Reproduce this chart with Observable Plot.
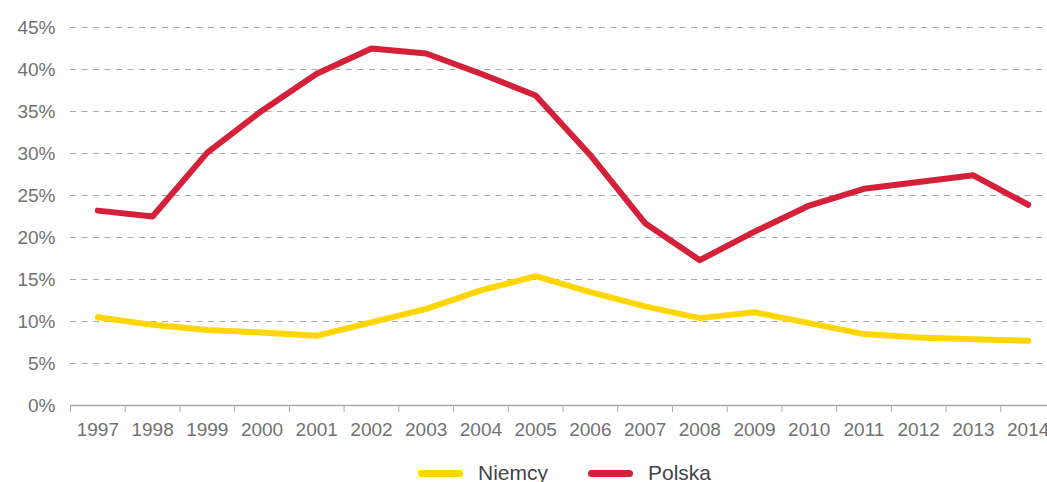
<!DOCTYPE html>
<html>
<head>
<meta charset="utf-8">
<script src="https://cdn.jsdelivr.net/npm/d3@7"></script>
<script src="https://cdn.jsdelivr.net/npm/@observablehq/plot@0.6"></script>
<style>
  html, body { margin: 0; padding: 0; background: #fff; }
  body { width: 1047px; height: 482px; overflow: hidden; font-family: "Liberation Sans", Arial, sans-serif; }
  #legend { display: flex; justify-content: center; align-items: center; margin-left: 76px; width: 977px; height: 36px; font-size: 21px; color: #444; }
  .item { display: flex; align-items: center; margin: 0 20px; }
  .sw { width: 45px; height: 7px; border-radius: 4px; margin-right: 15px; }
</style>
</head>
<body>
<div id="chart"></div>
<div id="legend"></div>
<script>
const years = [1997,1998,1999,2000,2001,2002,2003,2004,2005,2006,2007,2008,2009,2010,2011,2012,2013,2014];
const niemcy = [10.5,9.6,9.0,8.7,8.3,9.9,11.5,13.7,15.4,13.5,11.8,10.4,11.1,9.8,8.5,8.1,7.9,7.7];
const polska = [23.2,22.5,30.1,35.1,39.5,42.5,41.9,39.5,36.9,29.8,21.7,17.3,20.7,23.8,25.8,26.6,27.4,23.9];
const seriesNames = ["Niemcy", "Polska"];
const seriesColors = ["#ffd600", "#d42039"];
const yTicks = [0,5,10,15,20,25,30,35,40,45];

const rows = [];
years.forEach((y, i) => {
  rows.push({year: y, value: niemcy[i], series: "Niemcy"});
  rows.push({year: y, value: polska[i], series: "Polska"});
});
const halfTicks = years.map(y => y - 0.5).concat([years[years.length - 1] + 0.5]);

const chart = Plot.plot({
  width: 1047,
  height: 455,
  marginLeft: 70,
  marginRight: 0,
  marginTop: 27,
  marginBottom: 50,
  style: {fontFamily: "'Liberation Sans', Arial, sans-serif", fontSize: "19px", color: "#727272", background: "#fff"},
  x: {domain: [1996.5, 2014.5], range: [70, 1055], label: null},
  y: {domain: [0, 45], label: null},
  color: {domain: seriesNames, range: seriesColors},
  marks: [
    Plot.ruleY(yTicks.filter(d => d > 0), {stroke: "#aaa", strokeWidth: 1.2, strokeDasharray: "6,5.5"}),
    Plot.ruleY([0], {stroke: "#aaa", strokeWidth: 1.5}),
    Plot.axisY({ticks: yTicks, tickSize: 0, tickPadding: 15, tickFormat: d => d + "%", fill: "#727272", label: null}),
    Plot.axisX({ticks: halfTicks, tickSize: 7, stroke: "#aaa", tickFormat: () => "", label: null}),
    Plot.axisX({ticks: years, tickSize: 0, tickPadding: 17, tickFormat: d => String(d), fill: "#727272", label: null}),
    Plot.line(rows, {x: "year", y: "value", stroke: "series", z: "series", strokeWidth: 6, strokeLinecap: "round", strokeLinejoin: "round"})
  ]
});
document.getElementById("chart").appendChild(chart);

const legend = document.getElementById("legend");
seriesNames.forEach((n, i) => {
  const it = document.createElement("div");
  it.className = "item";
  const sw = document.createElement("div");
  sw.className = "sw";
  sw.style.background = seriesColors[i];
  const t = document.createElement("span");
  t.textContent = n;
  it.appendChild(sw); it.appendChild(t);
  legend.appendChild(it);
});
</script>
</body>
</html>
